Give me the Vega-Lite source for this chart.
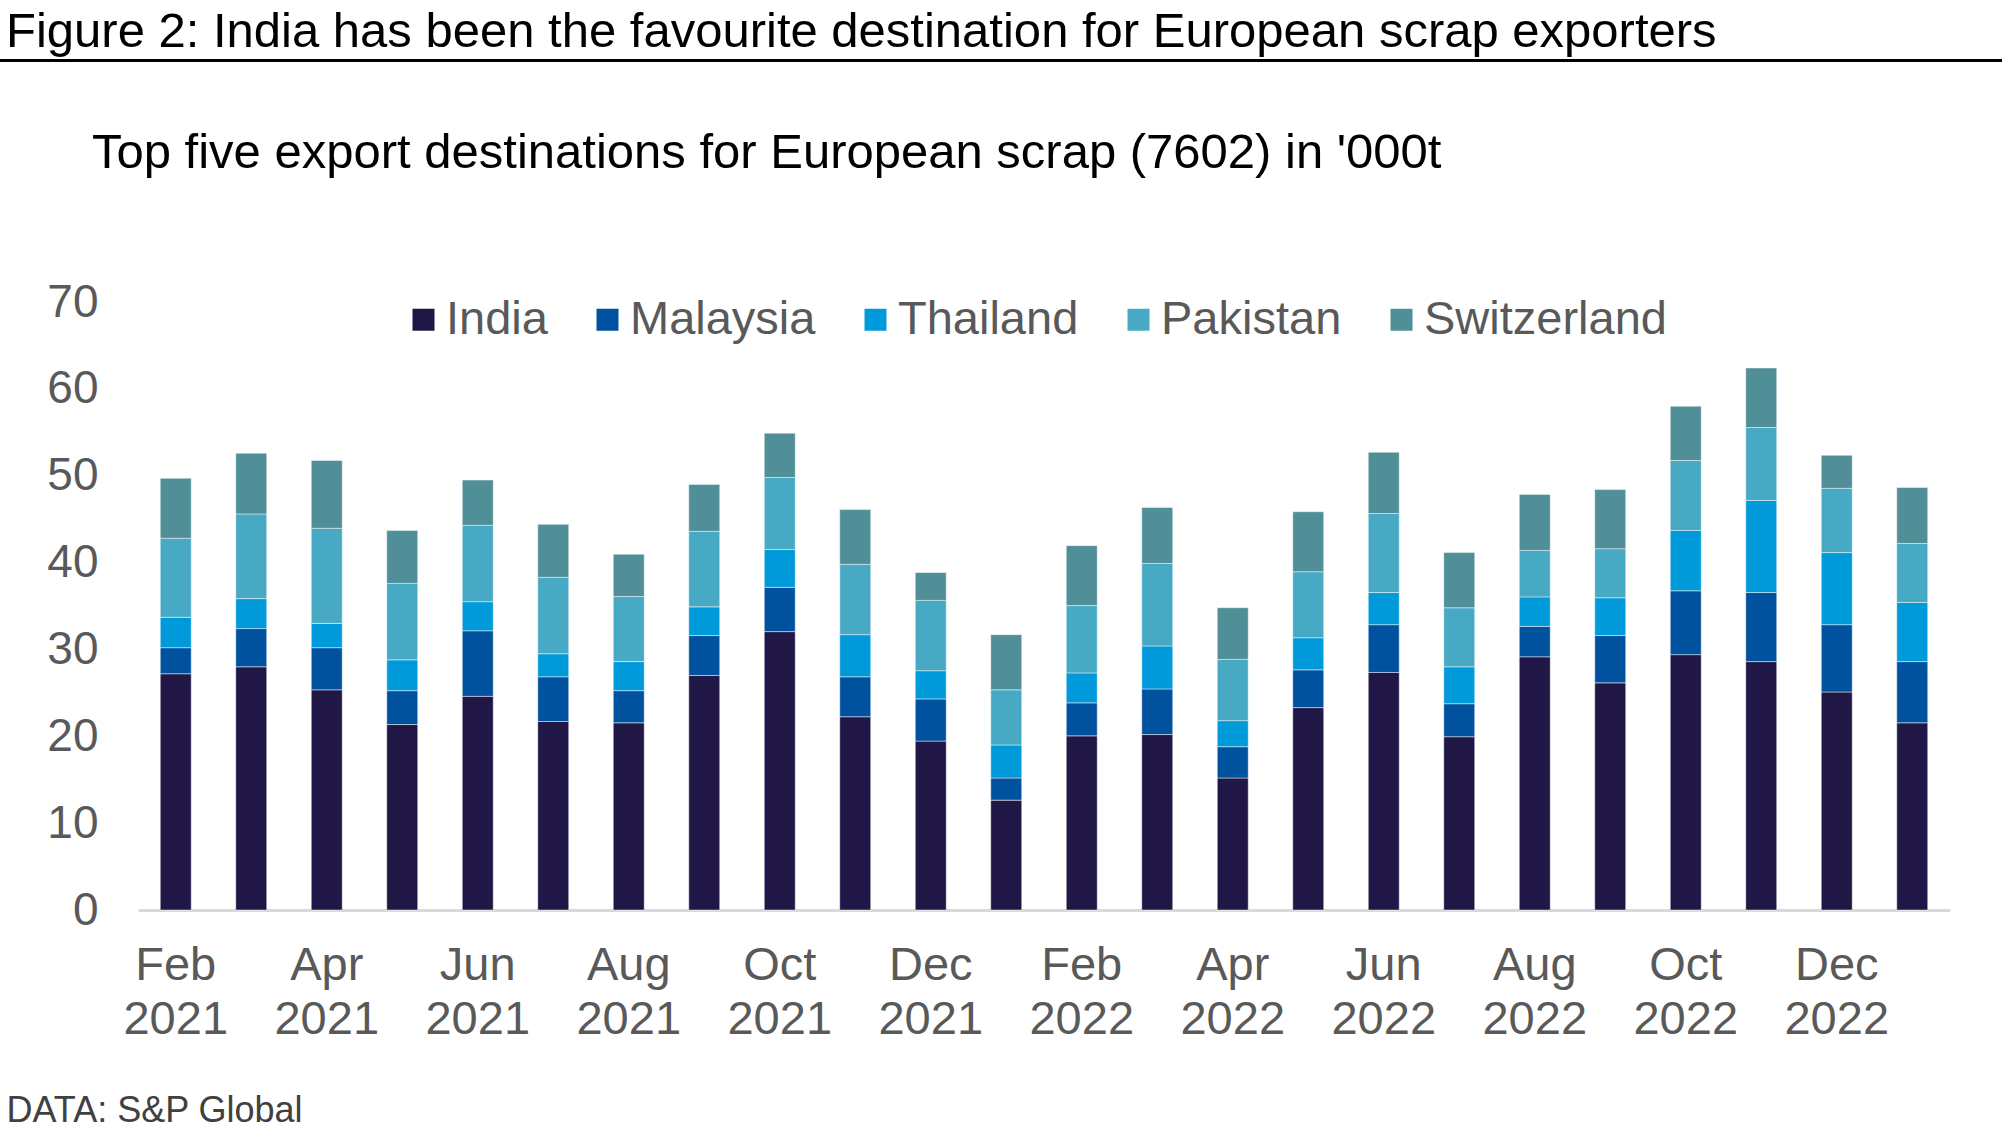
{
  "$schema": "https://vega.github.io/schema/vega-lite/v6.json",
  "background": "white",
  "padding": {"left": 0, "top": 8, "right": 0, "bottom": 0},
  "spacing": 67,
  "resolve": {"legend": {"color": "independent"}},
  "config": {
    "font": "Liberation Sans",
    "view": {"stroke": null}
  },
  "vconcat": [
    {
      "width": 2002,
      "height": 3,
      "view": {"fill": "#000000", "stroke": null},
      "title": {
        "text": "Figure 2: India has been the favourite destination for European scrap exporters",
        "anchor": "start",
        "frame": "group",
        "dx": 6,
        "offset": 2,
        "fontSize": 49,
        "fontWeight": "normal",
        "color": "#000000"
      },
      "data": {"values": []},
      "mark": "point"
    },
    {
      "width": 1950,
      "height": 608,
      "title": {
        "text": "Top five export destinations for European scrap (7602) in '000t",
        "anchor": "start",
        "frame": "group",
        "dx": 92,
        "offset": 101,
        "fontSize": 49,
        "fontWeight": "normal",
        "color": "#000000"
      },
      "data": {
        "values": [
          {"month": "Feb 2021", "India": 27.2, "Malaysia": 3.0, "Thailand": 3.5, "Pakistan": 9.1, "Switzerland": 6.9},
          {"month": "Mar 2021", "India": 28.0, "Malaysia": 4.4, "Thailand": 3.45, "Pakistan": 9.75, "Switzerland": 7.0},
          {"month": "Apr 2021", "India": 25.35, "Malaysia": 4.85, "Thailand": 2.8, "Pakistan": 10.95, "Switzerland": 7.8},
          {"month": "May 2021", "India": 21.35, "Malaysia": 3.9, "Thailand": 3.55, "Pakistan": 8.8, "Switzerland": 6.1},
          {"month": "Jun 2021", "India": 24.6, "Malaysia": 7.55, "Thailand": 3.35, "Pakistan": 8.8, "Switzerland": 5.2},
          {"month": "Jul 2021", "India": 21.7, "Malaysia": 5.15, "Thailand": 2.65, "Pakistan": 8.8, "Switzerland": 6.1},
          {"month": "Aug 2021", "India": 21.55, "Malaysia": 3.7, "Thailand": 3.35, "Pakistan": 7.5, "Switzerland": 4.85},
          {"month": "Sep 2021", "India": 27.0, "Malaysia": 4.6, "Thailand": 3.3, "Pakistan": 8.7, "Switzerland": 5.4},
          {"month": "Oct 2021", "India": 32.05, "Malaysia": 5.1, "Thailand": 4.35, "Pakistan": 8.3, "Switzerland": 5.1},
          {"month": "Nov 2021", "India": 22.25, "Malaysia": 4.6, "Thailand": 4.85, "Pakistan": 8.1, "Switzerland": 6.3},
          {"month": "Dec 2021", "India": 19.45, "Malaysia": 4.85, "Thailand": 3.25, "Pakistan": 8.1, "Switzerland": 3.2},
          {"month": "Jan 2022", "India": 12.65, "Malaysia": 2.55, "Thailand": 3.8, "Pakistan": 6.35, "Switzerland": 6.35},
          {"month": "Feb 2022", "India": 20.05, "Malaysia": 3.8, "Thailand": 3.45, "Pakistan": 7.75, "Switzerland": 6.9},
          {"month": "Mar 2022", "India": 20.2, "Malaysia": 5.25, "Thailand": 4.95, "Pakistan": 9.5, "Switzerland": 6.45},
          {"month": "Apr 2022", "India": 15.2, "Malaysia": 3.6, "Thailand": 3.0, "Pakistan": 7.05, "Switzerland": 5.95},
          {"month": "May 2022", "India": 23.3, "Malaysia": 4.35, "Thailand": 3.7, "Pakistan": 7.6, "Switzerland": 6.9},
          {"month": "Jun 2022", "India": 27.35, "Malaysia": 5.5, "Thailand": 3.7, "Pakistan": 9.1, "Switzerland": 7.05},
          {"month": "Jul 2022", "India": 19.95, "Malaysia": 3.8, "Thailand": 4.25, "Pakistan": 6.8, "Switzerland": 6.35},
          {"month": "Aug 2022", "India": 29.15, "Malaysia": 3.5, "Thailand": 3.4, "Pakistan": 5.35, "Switzerland": 6.45},
          {"month": "Sep 2022", "India": 26.15, "Malaysia": 5.45, "Thailand": 4.35, "Pakistan": 5.65, "Switzerland": 6.8},
          {"month": "Oct 2022", "India": 29.4, "Malaysia": 7.35, "Thailand": 6.95, "Pakistan": 8.05, "Switzerland": 6.25},
          {"month": "Nov 2022", "India": 28.6, "Malaysia": 7.95, "Thailand": 10.6, "Pakistan": 8.4, "Switzerland": 6.85},
          {"month": "Dec 2022", "India": 25.1, "Malaysia": 7.75, "Thailand": 8.3, "Pakistan": 7.4, "Switzerland": 3.8},
          {"month": "Jan 2023", "India": 21.55, "Malaysia": 7.05, "Thailand": 6.8, "Pakistan": 6.8, "Switzerland": 6.45}
        ]
      },
      "transform": [
        {"fold": ["India", "Malaysia", "Thailand", "Pakistan", "Switzerland"], "as": ["country", "value"]},
        {"calculate": "indexof(['India', 'Malaysia', 'Thailand', 'Pakistan', 'Switzerland'], datum.country)", "as": "rank"}
      ],
      "mark": {"type": "bar", "stroke": "#ffffff", "strokeWidth": 1, "strokeOpacity": 0.45},
      "encoding": {
        "x": {
          "field": "month",
          "type": "ordinal",
          "sort": null,
          "scale": {"range": [138, 1950], "paddingInner": 0.59, "paddingOuter": 0.295},
          "axis": {
            "title": null,
            "labelAngle": 0,
            "labelExpr": "test(/^(Feb|Apr|Jun|Aug|Oct|Dec)/, datum.value) ? split(datum.value, ' ') : ''",
            "labelFontSize": 47,
            "labelLineHeight": 54,
            "labelColor": "#595959",
            "labelPadding": 32,
            "labelOverlap": false,
            "ticks": false,
            "domainColor": "#D9D9D9",
            "domainWidth": 3
          }
        },
        "y": {
          "field": "value",
          "type": "quantitative",
          "stack": "zero",
          "scale": {"domain": [0, 70], "nice": false},
          "axis": {
            "values": [0, 10, 20, 30, 40, 50, 60, 70],
            "offset": -138,
            "grid": false,
            "domain": false,
            "ticks": false,
            "labelFontSize": 46,
            "labelColor": "#595959",
            "labelPadding": 40,
            "title": "DATA: S&P Global",
            "titleAngle": 0,
            "titleAlign": "left",
            "titleBaseline": "alphabetic",
            "titleX": -132,
            "titleY": 819,
            "titleFontSize": 36,
            "titleFontWeight": "normal",
            "titleColor": "#404040"
          }
        },
        "color": {
          "field": "country",
          "type": "nominal",
          "scale": {
            "domain": ["India", "Malaysia", "Thailand", "Pakistan", "Switzerland"],
            "range": ["#201747", "#00529F", "#009ADA", "#48A9C5", "#508F97"]
          },
          "legend": {
            "title": null,
            "orient": "none",
            "legendX": 400,
            "legendY": -6,
            "direction": "horizontal",
            "symbolType": "square",
            "symbolSize": 484,
            "symbolStrokeWidth": 0,
            "labelFontSize": 47,
            "labelColor": "#595959",
            "labelLimit": 400,
            "labelOffset": -1,
            "columnPadding": 36
          }
        },
        "order": {"field": "rank", "type": "quantitative"}
      }
    }
  ]
}
